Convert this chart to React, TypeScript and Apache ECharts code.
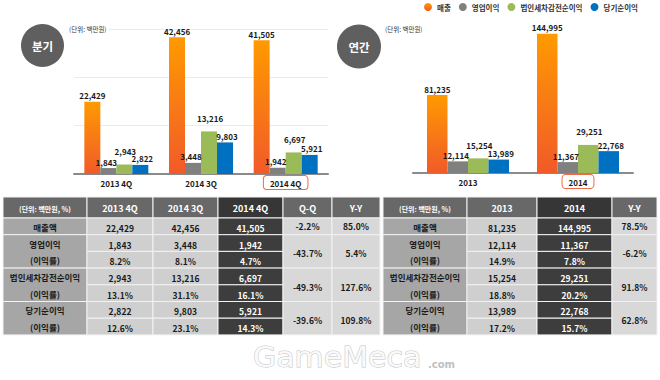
import React, { useEffect, useRef } from 'react';
import * as echarts from 'echarts';

// ---------- data ----------
const seriesNames = ['매출', '영업이익', '법인세차감전순이익', '당기순이익'];
const quarterCategories = ['2013 4Q', '2014 3Q', '2014 4Q'];
const yearCategories = ['2013', '2014'];

const quarterSales = [22429, 42456, 41505];
const quarterOperating = [1843, 3448, 1942];
const quarterPretax = [2943, 13216, 6697];
const quarterNet = [2822, 9803, 5921];
const quarterOperatingMargin = [8.2, 8.1, 4.7];
const quarterPretaxMargin = [13.1, 31.1, 16.1];
const quarterNetMargin = [12.6, 23.1, 14.3];
const quarterQoQ = [-2.2, -43.7, -49.3, -39.6];
const quarterYoY = [85.0, 5.4, 127.6, 109.8];

const yearSales = [81235, 144995];
const yearOperating = [12114, 11367];
const yearPretax = [15254, 29251];
const yearNet = [13989, 22768];
const yearOperatingMargin = [14.9, 7.8];
const yearPretaxMargin = [18.8, 20.2];
const yearNetMargin = [17.2, 15.7];
const yearYoY = [78.5, -6.2, 91.8, 62.8];

const tableRowLabels = ['매출액', '영업이익', '법인세차감전순이익', '당기순이익'];
const ratioLabel = '(이익률)';
const unitLabel = '(단위: 백만원)';
const tableUnitLabel = '(단위: 백만원, %)';
const quarterTitle = '분기';
const yearTitle = '연간';
const quarterChangeHeaders = ['Q-Q', 'Y-Y'];
const yearChangeHeaders = ['Y-Y'];

// ---------- styling ----------
const FONT = '"Noto Sans CJK KR", "Noto Sans", sans-serif';
const LX = [3, 87, 153, 218, 283, 332, 380];
const RX = [383, 467, 537, 612, 657];
const HEAD_TOP = 197;
const HEAD_H = 21;
const ROW_H = 16.7;
const rowTop = (i: number) => HEAD_TOP + HEAD_H + i * ROW_H;
const labelOffsets = [
  [0, 0],
  [-2, 0],
  [1, -7],
  [2, 0],
];

const rect = (x: number, y: number, w: number, h: number, fill: string) => ({
  type: 'rect',
  z: 5,
  shape: { x, y, width: w, height: h },
  style: { fill, stroke: '#f2f2f2', lineWidth: 1 },
});
const txt = (x: number, y: number, text: string, fill: string, size: number, weight = 'bold', align = 'center') => ({
  type: 'text',
  z: 6,
  x,
  y,
  style: { text, fill, font: `${weight} ${size}px ${FONT}`, align, verticalAlign: 'middle' },
});

function buildTable(
  xs: number[],
  headers: string[],
  darkIdx: number,
  values: number[][],
  ratios: (number[] | null)[],
  changes: number[][]
) {
  const els: any[] = [];
  const nVal = values[0].length;
  headers.forEach((h, c) => {
    const x = xs[c];
    const w = xs[c + 1] - x;
    const dark = c === 1 + darkIdx;
    els.push(rect(x, HEAD_TOP, w, HEAD_H, dark ? '#363636' : '#686868'));
    els.push(txt(x + w / 2, HEAD_TOP + HEAD_H / 2 + 1, h, '#ffffff', c === 0 ? 7 : 9));
  });
  let row = 0;
  values.forEach((vals, g) => {
    const r = ratios[g];
    const span = r ? 2 : 1;
    const top = rowTop(row);
    const h = span * ROW_H;
    const lw = xs[1] - xs[0];
    els.push(rect(xs[0], top, lw, h, '#a6a6a6'));
    els.push(txt(xs[0] + lw / 2, top + ROW_H / 2 + 0.5, tableRowLabels[g], '#1a1a1a', 8.5));
    if (r) els.push(txt(xs[0] + lw / 2, top + ROW_H * 1.5 + 0.5, ratioLabel, '#1a1a1a', 8.5));
    for (let c = 0; c < nVal; c++) {
      const x = xs[1 + c];
      const w = xs[2 + c] - x;
      const dark = c === darkIdx;
      for (let k = 0; k < span; k++) {
        const t = rowTop(row + k);
        els.push(rect(x, t, w, ROW_H, dark ? '#3d3d3d' : '#cfcfcf'));
        const s = k === 0 ? vals[c].toLocaleString('en-US') : (r as number[])[c].toFixed(1) + '%';
        els.push(txt(x + w / 2, t + ROW_H / 2 + 1.5, s, dark ? '#ffffff' : '#1a1a1a', 8.5));
      }
    }
    changes.forEach((arr, k) => {
      const x = xs[1 + nVal + k];
      const w = xs[2 + nVal + k] - x;
      els.push(rect(x, top, w, h, '#d8d8d8'));
      els.push(txt(x + w / 2, top + h / 2 + (span === 2 ? 2 : 0), arr[g].toFixed(1) + '%', '#1a1a1a', 8.5));
    });
    row += span;
  });
  return els;
}

export default function App() {
  const ref = useRef<HTMLDivElement>(null);
  useEffect(() => {
    if (!ref.current) return;
    const chart = echarts.init(ref.current, null, { renderer: 'svg' });
    const orange = new echarts.graphic.LinearGradient(0, 0, 0, 1, [
      { offset: 0, color: '#FF9A00' },
      { offset: 1, color: '#F15A29' },
    ]);
    const colors: any[] = [orange, '#808080', '#9BBB59', '#0070C0'];
    const qData = [quarterSales, quarterOperating, quarterPretax, quarterNet];
    const yData = [yearSales, yearOperating, yearPretax, yearNet];

    const labelFor = (i: number) => ({
      show: true,
      position: 'top',
      distance: 2,
      offset: labelOffsets[i],
      fontSize: 8,
      fontWeight: 'bold',
      color: '#1a1a1a',
      fontFamily: FONT,
      formatter: (p: any) => Number(p.value).toLocaleString('en-US'),
    });

    const xAxisFor = (gridIndex: number, data: string[]) => ({
      type: 'category',
      gridIndex,
      data,
      axisTick: { show: false },
      axisLine: { lineStyle: { color: '#8a8a8a', width: 2 } },
      axisLabel: {
        margin: 4,
        interval: 0,
        formatter: (v: string, i: number) => (i === data.length - 1 ? `{hl|${v}}` : `{n|${v}}`),
        rich: {
          n: { fontSize: 8, fontWeight: 'bold', color: '#1a1a1a', fontFamily: FONT, lineHeight: 9, padding: [3, 6, 2, 6] },
          hl: {
            fontSize: 8,
            fontWeight: 'bold',
            color: '#1a1a1a',
            fontFamily: FONT,
            lineHeight: 9,
            padding: [3, 6, 2, 6],
            borderColor: '#EE6A48',
            borderWidth: 1,
            borderRadius: 3,
            backgroundColor: '#ffffff',
          },
        },
      },
    });

    const series: any[] = [];
    seriesNames.forEach((name, i) => {
      series.push({
        name,
        type: 'bar',
        xAxisIndex: 0,
        yAxisIndex: 0,
        data: qData[i],
        barWidth: 16,
        barGap: '0%',
        itemStyle: { color: colors[i] },
        label: labelFor(i),
      });
    });
    seriesNames.forEach((name, i) => {
      series.push({
        name,
        type: 'bar',
        xAxisIndex: 1,
        yAxisIndex: 1,
        data: yData[i],
        barWidth: 20.5,
        barGap: '0%',
        itemStyle: { color: colors[i] },
        label: labelFor(i),
      });
    });

    const graphics: any[] = [
      { type: 'circle', z: 5, shape: { cx: 42.5, cy: 45.5, r: 21.5 }, style: { fill: '#5f5f5f' } },
      txt(42.5, 46, quarterTitle, '#ffffff', 11.5),
      { type: 'circle', z: 5, shape: { cx: 359, cy: 46.5, r: 22 }, style: { fill: '#5f5f5f' } },
      txt(359, 47, yearTitle, '#ffffff', 11.5),
      {
        type: 'text',
        z: 6,
        x: 67,
        y: 28.5,
        style: { text: unitLabel, fill: '#333333', font: `6.5px ${FONT}`, align: 'left', verticalAlign: 'middle', backgroundColor: '#ffffff', padding: [1, 2] },
      },
      {
        type: 'text',
        z: 6,
        x: 385,
        y: 28.5,
        style: { text: unitLabel, fill: '#333333', font: `6.5px ${FONT}`, align: 'left', verticalAlign: 'middle' },
      },
      ...buildTable(
        LX,
        [tableUnitLabel, ...quarterCategories, ...quarterChangeHeaders],
        2,
        qData,
        [null, quarterOperatingMargin, quarterPretaxMargin, quarterNetMargin],
        [quarterQoQ, quarterYoY]
      ),
      ...buildTable(
        RX,
        [tableUnitLabel, ...yearCategories, ...yearChangeHeaders],
        1,
        yData,
        [null, yearOperatingMargin, yearPretaxMargin, yearNetMargin],
        [yearYoY]
      ),
      {
        type: 'text',
        z: 1,
        x: 253,
        y: 357,
        scaleX: 1.07,
        style: { text: 'GameMeca', fill: '#fafafa', stroke: '#c4c4c4', lineWidth: 1, font: `28px "DejaVu Sans", sans-serif`, align: 'left', verticalAlign: 'middle' },
      },
      {
        type: 'text',
        z: 1,
        x: 428,
        y: 364,
        style: { text: '.com', fill: '#c0c0c0', font: `bold 10px "DejaVu Sans", sans-serif`, align: 'left', verticalAlign: 'middle' },
      },
    ];

    chart.setOption({
      animation: false,
      textStyle: { fontFamily: FONT },
      legend: {
        data: seriesNames,
        left: 424,
        top: 3,
        padding: 0,
        icon: 'circle',
        itemWidth: 8,
        itemHeight: 8,
        itemGap: 8,
        textStyle: { fontSize: 7.5, fontWeight: 'bold', color: '#333333', fontFamily: FONT },
      },
      grid: [
        { left: 74, right: 332, top: 29, bottom: 206 },
        { left: 413, right: 27, top: 29, bottom: 207 },
      ],
      xAxis: [xAxisFor(0, quarterCategories), xAxisFor(1, yearCategories)],
      yAxis: [
        {
          type: 'value',
          gridIndex: 0,
          min: 0,
          max: 45000,
          interval: 15000,
          axisLabel: { show: false },
          axisLine: { show: false },
          axisTick: { show: false },
          splitLine: { lineStyle: { color: '#ebebeb' } },
        },
        { type: 'value', gridIndex: 1, min: 0, max: 150000, show: false, splitLine: { show: false } },
      ],
      series,
      graphic: { elements: graphics },
    });
    return () => chart.dispose();
  }, []);
  return <div ref={ref} style={{ position: 'absolute', left: 0, top: 0, width: 660, height: 380, background: '#ffffff' }} />;
}
